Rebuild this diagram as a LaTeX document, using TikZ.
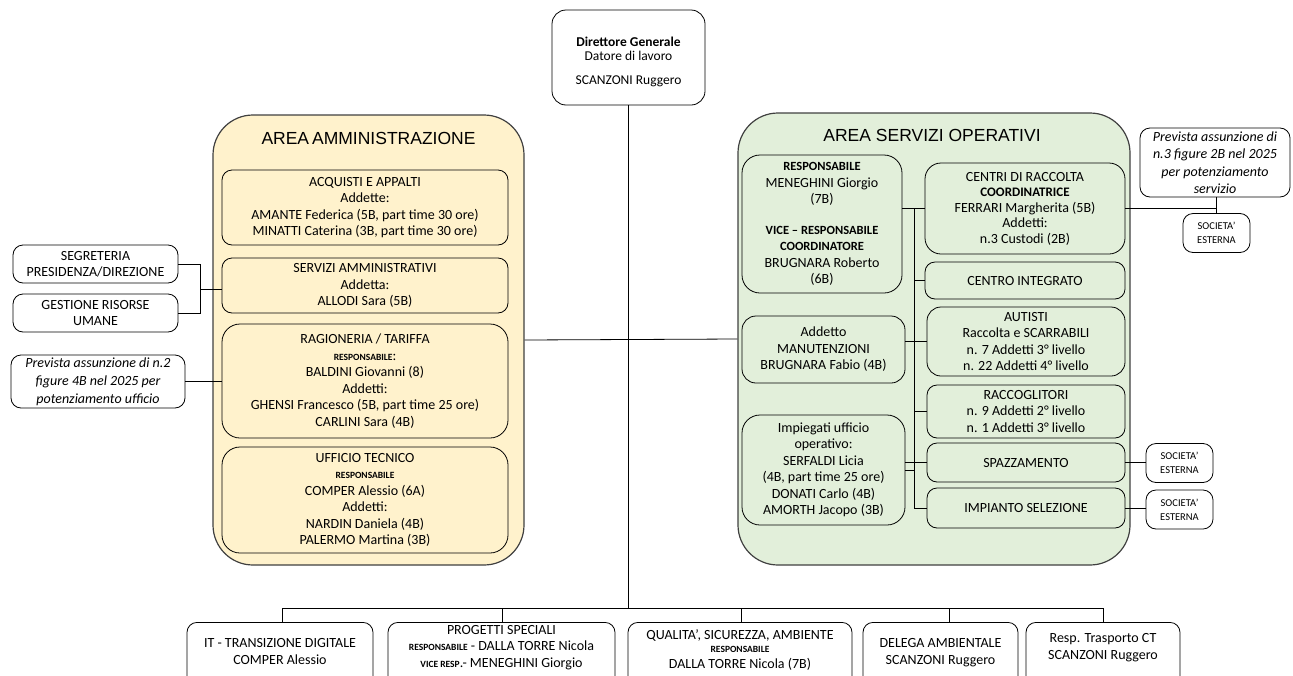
\documentclass[tikz,border=0pt]{standalone}
\usepackage{fontspec}
\setmainfont{Carlito}
\newfontfamily\titlefont{Liberation Sans}
\newcommand\rsmall{\fontsize{9.5}{12}\selectfont\bfseries}
\newcommand\rmid{\fontsize{12.5}{15.5}\selectfont\bfseries}
\definecolor{yfill}{HTML}{FFF2CC}
\definecolor{gfill}{HTML}{E2EFDA}
\definecolor{aline}{HTML}{404040}
\begin{document}
\begin{tikzpicture}[x=1pt,y=-1pt,
  body/.style={font=\fontsize{14}{16.5}\selectfont, align=center, inner sep=0pt},
  ib/.style={body, draw=black, line width=0.8pt, rounded corners=10pt},
  bb/.style={draw=black, line width=0.8pt, rounded corners=10pt, inner sep=0pt},
  ital/.style={ib, font=\fontsize{14}{18}\selectfont\itshape, fill=white},
  soc/.style={ib, font=\fontsize{10.5}{14}\selectfont, fill=white, minimum width=67, minimum height=39},
  area/.style={draw=aline, line width=1.2pt, rounded corners=40pt, inner sep=0pt},
  atitle/.style={font=\titlefont\fontsize{17.5}{20}\selectfont, inner sep=0pt},
  conn/.style={draw=black, line width=0.8pt},
  ]
\useasboundingbox (0,0) rectangle (1293,675);
\clip (0,0) rectangle (1293,675);

% Director
\node[bb, fill=white, minimum width=153, minimum height=95, rounded corners=14pt] (dir) at (628.5,57.5) {};
\node[body, font=\fontsize{13.5}{14.5}\selectfont] (dirt) at (628.5,61.5)
  {\textbf{Direttore Generale}\\Datore di lavoro\\[9pt]SCANZONI Ruggero};

% Areas
\node[area, fill=yfill, minimum width=311, minimum height=450] (la) at (368.5,340) {};
\node[atitle] (lat) at (368.5,138) {AREA\hspace{3pt}AMMINISTRAZIONE};
\node[area, fill=gfill, minimum width=392, minimum height=452] (ra) at (934,339) {};
\node[atitle] (rat) at (932,135) {AREA SERVIZI OPERATIVI};

% Left area boxes
\node[ib, minimum width=286, minimum height=75] (acq) at (365,207.5)
  {ACQUISTI E APPALTI\\Addette:\\AMANTE Federica (5B, part time 30 ore)\\MINATTI Caterina (3B, part time 30 ore)};
\node[ib, minimum width=286, minimum height=55] (serv) at (365,285.5)
  {SERVIZI AMMINISTRATIVI\\Addetta:\\ALLODI Sara (5B)};
\node[ib, minimum width=286, minimum height=114, rounded corners=18pt] (rag) at (365,381)
  {RAGIONERIA / TARIFFA\\{\rsmall RESPONSABILE}:\\BALDINI Giovanni (8)\\Addetti:\\GHENSI Francesco (5B, part time 25 ore)\\CARLINI Sara (4B)};
\node[ib, minimum width=286, minimum height=106, rounded corners=18pt] (uff) at (365,500)
  {UFFICIO TECNICO\\{\rsmall RESPONSABILE}\\COMPER Alessio (6A)\\Addetti:\\NARDIN Daniela (4B)\\PALERMO Martina (3B)};

% Left external boxes
\node[ib, fill=white, minimum width=165, minimum height=38] (seg) at (95.5,264)
  {SEGRETERIA\\PRESIDENZA/DIREZIONE};
\node[ib, fill=white, minimum width=165, minimum height=38] (ges) at (95.5,313)
  {GESTIONE RISORSE\\UMANE};
\node[ital, minimum width=174, minimum height=53] (prev2) at (98,381.5)
  {Prevista assunzione di n.2\\figure 4B nel 2025 per\\potenziamento ufficio};

\coordinate (jl) at (200,289);
\draw[conn] (seg.east) -- (seg.east -| jl) -- (ges.east -| jl) -- (ges.east);
\draw[conn] (jl) -- (jl -| serv.west);
\draw[conn] (prev2.east) -- (prev2.east -| rag.west);

% Right area boxes
\node[ib, minimum width=160, minimum height=138, rounded corners=18pt] (resp) at (822,224)
  {{\rmid RESPONSABILE}\\MENEGHINI Giorgio\\(7B)\\[14pt]{\rmid VICE – RESPONSABILE}\\{\rmid COORDINATORE}\\BRUGNARA Roberto\\(6B)};
\node[ib, minimum width=163, minimum height=67, rounded corners=14pt] (man) at (823.5,349.5)
  {Addetto\\MANUTENZIONI\\BRUGNARA Fabio (4B)};
\node[ib, minimum width=163, minimum height=110, rounded corners=18pt] (imp) at (823.5,470)
  {Impiegati ufficio\\operativo:\\SERFALDI Licia\\(4B, part time 25 ore)\\DONATI Carlo (4B)\\AMORTH Jacopo (3B)};

\node[ib, font=\fontsize{14}{15.5}\selectfont, minimum width=200, minimum height=91, rounded corners=16pt] (cen) at (1025,208.5)
  {CENTRI DI RACCOLTA\\{\fontsize{13}{15.5}\selectfont\bfseries COORDINATRICE}\\FERRARI Margherita (5B)\\Addetti:\\n.3 Custodi (2B)};
\node[ib, minimum width=200, minimum height=37] (cint) at (1025,280.5) {CENTRO INTEGRATO};
\node[ib, minimum width=198, minimum height=69, rounded corners=14pt] (aut) at (1026,341.5)
  {AUTISTI\\Raccolta e SCARRABILI\\n. 7 Addetti 3° livello\\n. 22 Addetti 4° livello};
\node[ib, minimum width=198, minimum height=53] (rac) at (1026,411.5)
  {RACCOGLITORI\\n. 9 Addetti 2° livello\\n. 1 Addetti 3° livello};
\node[ib, minimum width=198, minimum height=39] (spa) at (1026,462.5) {SPAZZAMENTO};
\node[ib, minimum width=198, minimum height=40] (imps) at (1026,508) {IMPIANTO SELEZIONE};

% Right area connectors
\coordinate (bt) at (914,208.5);
\coordinate (bb) at (914,508);
\draw[conn] (bt) -- (bb);
\draw[conn] (resp.east |- cen.west) -- (cen.west);
\draw[conn] (bt |- cint.west) -- (cint.west);
\draw[conn] (man.east |- aut.west) -- (aut.west);
\draw[conn] (bt |- rac.west) -- (rac.west);
\draw[conn] (imp.east |- spa.west) -- (spa.west);
\draw[conn] (imp.east) -- (imp.east -| bt);
\draw[conn] (bt |- imps.west) -- (imps.west);

% Right externals
\node[ital, minimum width=150, minimum height=69, font=\fontsize{14}{17.5}\selectfont\itshape] (prev3) at (1215,162.5)
  {Prevista assunzione di\\n.3 figure 2B nel 2025\\per potenziamento\\servizio};
\node[soc] (soc1) at (1216.5,233) {SOCIETA’\\ESTERNA};
\node[soc] (soc2) at (1179.5,463) {SOCIETA’\\ESTERNA};
\node[soc] (soc3) at (1179.5,509.5) {SOCIETA’\\ESTERNA};
\coordinate (jr) at (1216.5,208.5);
\draw[conn] (cen.east) -- (jr);
\draw[conn] (prev3.south -| jr) -- (soc1.north);
\draw[conn] (spa.east) -- (spa.east -| soc2.west);
\draw[conn] (imps.east) -- (imps.east -| soc3.west);

% Main connectors
\draw[conn] (la.east) -- (ra.west);
\coordinate (hbL) at (282,608);
\coordinate (hbR) at (1103,608);
\draw[conn] (dir.south) -- (dir.south |- hbL);
\draw[conn] (hbL) -- (hbR);

% Bottom row
\node[bb, minimum width=186, minimum height=70, anchor=north] (it) at (280,622) {};
\node[bb, minimum width=227, minimum height=70, anchor=north] (prog) at (501.5,622) {};
\node[bb, minimum width=224, minimum height=70, anchor=north] (qual) at (740,622) {};
\node[bb, minimum width=155, minimum height=70, anchor=north] (del) at (940.5,622) {};
\node[bb, minimum width=154, minimum height=70, anchor=north] (tra) at (1103,622) {};

\node[body] (itt) at (280,651.5) {IT - TRANSIZIONE DIGITALE\\COMPER Alessio};
\node[body] (progt) at (501.5,647.5) {PROGETTI SPECIALI\\{\rsmall RESPONSABILE} - DALLA TORRE Nicola\\{\rsmall VICE RESP}.- MENEGHINI Giorgio};
\node[body] (qualt) at (740,650) {QUALITA’, SICUREZZA, AMBIENTE\\[-3pt]{\rsmall RESPONSABILE}\\[-1pt]DALLA TORRE Nicola (7B)};
\node[body] (delt) at (940.5,652.5) {DELEGA AMBIENTALE\\SCANZONI Ruggero};
\node[body] (trat) at (1103,647.5) {Resp. Trasporto CT\\SCANZONI Ruggero};

\coordinate (d1) at (282,608);
\coordinate (d2) at (502,608);
\coordinate (d3) at (741,608);
\coordinate (d4) at (949,608);
\coordinate (d5) at (1103,608);
\draw[conn] (d1) -- (d1 |- it.north);
\draw[conn] (d2) -- (d2 |- prog.north);
\draw[conn] (d3) -- (d3 |- qual.north);
\draw[conn] (d4) -- (d4 |- del.north);
\draw[conn] (d5) -- (d5 |- tra.north);
\end{tikzpicture}
\end{document}
